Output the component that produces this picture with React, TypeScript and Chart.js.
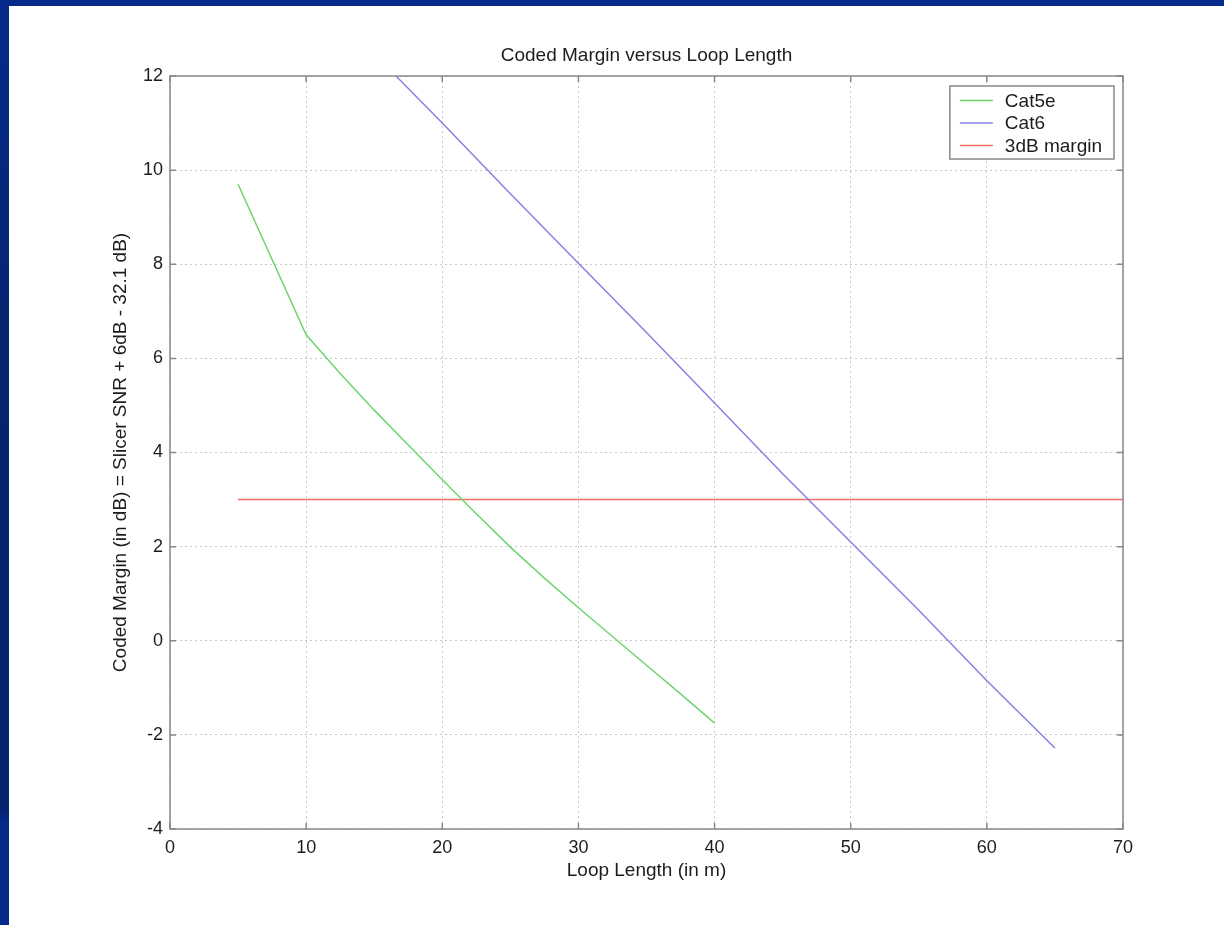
import React, { useEffect, useRef } from "react";
import { Chart, registerables } from "chart.js";

Chart.register(...registerables);

// ---- data ----
const cat5eLengths = [5, 10, 12.5, 15, 17.5, 20, 22.5, 25, 27.5, 30, 32.5, 35, 37.5, 40];
const cat5eMargin = [9.7, 6.5, 5.68, 4.9, 4.16, 3.42, 2.7, 1.99, 1.33, 0.7, 0.09, -0.52, -1.13, -1.75];

const cat6Lengths = [16.6, 20, 25, 30, 35, 40, 45, 50, 55, 60, 65];
const cat6Margin = [12, 11.0, 9.5, 8.02, 6.55, 5.05, 3.55, 2.1, 0.65, -0.85, -2.28];

const marginLengths = [5, 70];
const marginValues = [3, 3];

const seriesLabels = ["Cat5e", "Cat6", "3dB margin"];
const seriesColors = ["rgb(110,212,110)", "rgb(130,130,228)", "rgb(238,110,100)"];

const chartTitle = "Coded Margin versus Loop Length";
const xTitle = "Loop Length (in m)";
const yTitle = "Coded Margin (in dB) = Slicer SNR + 6dB - 32.1 dB)";

const X_MIN = 0, X_MAX = 70, X_STEP = 10;
const Y_MIN = -4, Y_MAX = 12, Y_STEP = 2;

const FONT = "'Liberation Sans', Arial, Helvetica, sans-serif";
const TEXT = "#1c1c1c";

const toPoints = (xs: number[], ys: number[]) => xs.map((x, i) => ({ x, y: ys[i] }));

const framePlugin = {
  id: "matlabFrame",
  afterDraw(chart: any) {
    const { ctx, chartArea } = chart;
    const { left, right, top, bottom } = chartArea;
    const xs = chart.scales.x;
    const ys = chart.scales.y;
    ctx.save();
    ctx.strokeStyle = "#888888";
    ctx.lineWidth = 1.5;
    ctx.setLineDash([]);
    ctx.strokeRect(left, top, right - left, bottom - top);
    const tl = 6;
    ctx.beginPath();
    xs.ticks.forEach((t: any) => {
      const px = xs.getPixelForValue(t.value);
      ctx.moveTo(px, bottom);
      ctx.lineTo(px, bottom - tl);
      ctx.moveTo(px, top);
      ctx.lineTo(px, top + tl);
    });
    ys.ticks.forEach((t: any) => {
      const py = ys.getPixelForValue(t.value);
      ctx.moveTo(left, py);
      ctx.lineTo(left + tl, py);
      ctx.moveTo(right, py);
      ctx.lineTo(right - tl, py);
    });
    ctx.stroke();

    // legend box (top-right, inside the axes)
    ctx.font = `19px ${FONT}`;
    const widths = chart.data.datasets.map((d: any) => ctx.measureText(d.label).width);
    const maxW = Math.max(...widths);
    const padL = 10, lineLen = 33, gap = 12, padR = 12;
    const boxW = padL + lineLen + gap + maxW + padR;
    const rowH = 22.5;
    const boxH = 73;
    const bx = right - 9 - boxW;
    const by = top + 10;
    ctx.fillStyle = "#ffffff";
    ctx.fillRect(bx, by, boxW, boxH);
    ctx.strokeStyle = "#888888";
    ctx.lineWidth = 1.5;
    ctx.strokeRect(bx, by, boxW, boxH);
    chart.data.datasets.forEach((d: any, i: number) => {
      const cy = by + 14.5 + i * rowH;
      ctx.strokeStyle = d.borderColor;
      ctx.lineWidth = 1.5;
      ctx.beginPath();
      ctx.moveTo(bx + padL, cy);
      ctx.lineTo(bx + padL + lineLen, cy);
      ctx.stroke();
      ctx.fillStyle = TEXT;
      ctx.textAlign = "left";
      ctx.textBaseline = "middle";
      ctx.fillText(d.label, bx + padL + lineLen + gap, cy + 1);
    });
    ctx.restore();
  },
};

export default function App() {
  const ref = useRef<HTMLCanvasElement | null>(null);

  useEffect(() => {
    document.body.style.margin = "0";
    if (!ref.current) return;
    const chart = new Chart(ref.current, {
      type: "line",
      data: {
        datasets: [
          { label: seriesLabels[0], data: toPoints(cat5eLengths, cat5eMargin), borderColor: seriesColors[0] },
          { label: seriesLabels[1], data: toPoints(cat6Lengths, cat6Margin), borderColor: seriesColors[1] },
          { label: seriesLabels[2], data: toPoints(marginLengths, marginValues), borderColor: seriesColors[2] },
        ].map((d) => ({ ...d, borderWidth: 1.5, pointRadius: 0, tension: 0, fill: false })),
      },
      options: {
        animation: false,
        responsive: false,
        devicePixelRatio: 1,
        layout: { padding: { left: 0, right: 101, top: 0, bottom: 0 } },
        plugins: {
          legend: { display: false },
          tooltip: { enabled: false },
          title: {
            display: true,
            fullSize: false,
            text: chartTitle,
            color: TEXT,
            font: { family: FONT, size: 19, weight: "normal", lineHeight: 1.2 },
            padding: { top: 44, bottom: 9.2 },
          },
        },
        scales: {
          x: {
            type: "linear",
            min: X_MIN,
            max: X_MAX,
            ticks: { stepSize: X_STEP, color: TEXT, font: { family: FONT, size: 18 }, padding: 8, maxRotation: 0 },
            grid: { color: "#c8c8c8", lineWidth: 1, drawTicks: false },
            border: { display: false, dash: [2, 3] },
            title: {
              display: true,
              text: xTitle,
              color: TEXT,
              font: { family: FONT, size: 19, lineHeight: 1.2 },
              padding: { top: 0, bottom: 43 },
            },
            afterFit: (s: any) => {
              s.height = 96;
            },
          },
          y: {
            type: "linear",
            min: Y_MIN,
            max: Y_MAX,
            ticks: { stepSize: Y_STEP, color: TEXT, font: { family: FONT, size: 18 }, padding: 7 },
            grid: { color: "#c8c8c8", lineWidth: 1, drawTicks: false },
            border: { display: false, dash: [2, 3] },
            title: {
              display: true,
              text: yTitle,
              color: TEXT,
              font: { family: FONT, size: 19, lineHeight: 1.2 },
              padding: { top: 109, bottom: 0 },
            },
            afterFit: (s: any) => {
              s.width = 170;
            },
          },
        },
      },
      plugins: [framePlugin],
    });
    return () => chart.destroy();
  }, []);

  return (
    <div style={{ position: "relative", width: 1224, height: 925, background: "#ffffff", overflow: "hidden" }}>
      <canvas ref={ref} width={1224} height={925} style={{ position: "absolute", left: 0, top: 0 }} />
      <div style={{ position: "absolute", left: 0, top: 0, width: 1224, height: 6, background: "#062a8a" }} />
      <div
        style={{
          position: "absolute",
          left: 0,
          top: 0,
          width: 9,
          height: 925,
          background: "linear-gradient(to bottom, #062a8a 0%, #04256f 35%, #03226a 87%, #062a8a 89%, #062a8a 100%)",
        }}
      />
    </div>
  );
}
